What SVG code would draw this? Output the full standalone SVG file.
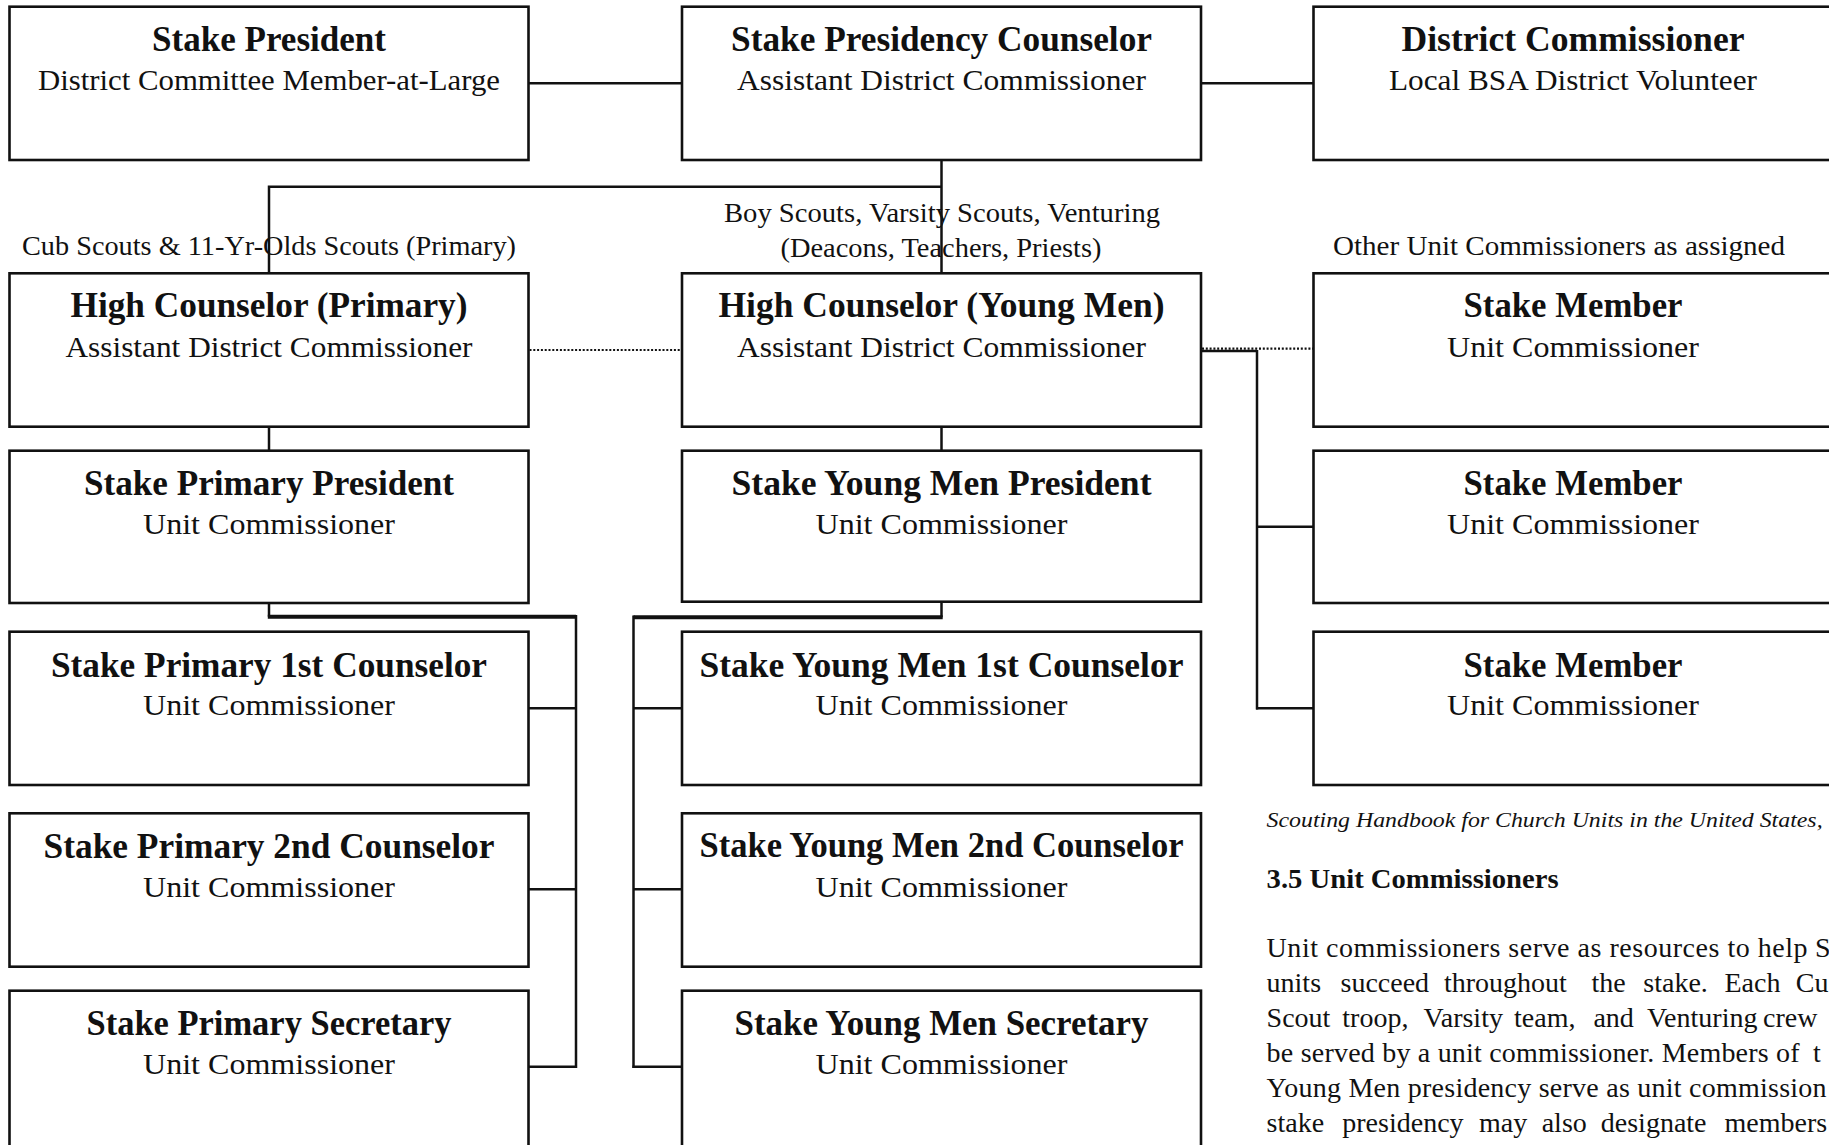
<svg xmlns="http://www.w3.org/2000/svg" width="1829" height="1145" viewBox="0 0 1829 1145">
<style>
.box{fill:#fff;stroke:#111;stroke-width:2.6}
.t{font-family:"Liberation Serif","Times New Roman",serif;font-weight:bold;font-size:35px;fill:#111;text-anchor:middle}
.s{font-family:"Liberation Serif","Times New Roman",serif;font-size:29px;fill:#111;text-anchor:middle}
.lbl{font-family:"Liberation Serif","Times New Roman",serif;font-size:27px;fill:#111}
.c{fill:none;stroke:#111;stroke-width:2.5}
.thick{fill:none;stroke:#111;stroke-width:4}
.dot{fill:none;stroke:#111;stroke-width:2.2;stroke-dasharray:2 1.8}
.p{font-family:"Liberation Serif","Times New Roman",serif;font-size:28px;fill:#111}
.cite{font-family:"Liberation Serif","Times New Roman",serif;font-style:italic;font-size:22px;fill:#111}
.h{font-family:"Liberation Serif","Times New Roman",serif;font-weight:bold;font-size:28px;fill:#111}
</style>
<rect x="0" y="0" width="1829" height="1145" fill="#fff"/>

<g id="connectors">
  <line class="c" x1="528.5" y1="83.3" x2="682" y2="83.3"/>
  <line class="c" x1="1201" y1="83.3" x2="1313.5" y2="83.3"/>
  <line class="c" x1="941.5" y1="160" x2="941.5" y2="273.3"/>
  <polyline class="c" points="941.5,186.7 269,186.7 269,273.3"/>
  <line class="dot" x1="529.5" y1="350" x2="681" y2="350"/>
  <line class="c" x1="1201" y1="351" x2="1257" y2="351"/>
  <line class="dot" x1="1202" y1="348.6" x2="1313" y2="348.6"/>
  <line class="c" x1="1257" y1="350" x2="1257" y2="709.5"/>
  <line class="c" x1="1257" y1="526.7" x2="1313.5" y2="526.7"/>
  <line class="c" x1="1256" y1="708.3" x2="1313.5" y2="708.3"/>
  <line class="c" x1="269" y1="426.7" x2="269" y2="450.7"/>
  <line class="c" x1="941.5" y1="426.7" x2="941.5" y2="450.7"/>
  <polyline class="c" points="269,603 269,616.7"/>
  <line class="thick" x1="267.8" y1="616.7" x2="576" y2="616.7"/>
  <line class="c" x1="576" y1="615" x2="576" y2="1068"/>
  <line class="c" x1="528.5" y1="708.3" x2="576" y2="708.3"/>
  <line class="c" x1="528.5" y1="889.3" x2="576" y2="889.3"/>
  <line class="c" x1="528.5" y1="1066.7" x2="577" y2="1066.7"/>
  <polyline class="c" points="941.5,601.7 941.5,617.3"/>
  <line class="thick" x1="942.7" y1="617.3" x2="633.5" y2="617.3"/>
  <line class="c" x1="633.5" y1="615.5" x2="633.5" y2="1068"/>
  <line class="c" x1="633.5" y1="708.3" x2="682" y2="708.3"/>
  <line class="c" x1="633.5" y1="889.3" x2="682" y2="889.3"/>
  <line class="c" x1="632.5" y1="1066.7" x2="682" y2="1066.7"/>
</g>

<g id="n1">
  <rect class="box" x="9.5" y="6.7" width="519" height="153.3"/>
  <text class="t" x="269" y="51.4" textLength="234" lengthAdjust="spacingAndGlyphs">Stake President</text>
  <text class="s" x="269" y="90" textLength="462" lengthAdjust="spacingAndGlyphs">District Committee Member-at-Large</text>
</g>
<g id="n2">
  <rect class="box" x="682" y="6.7" width="519" height="153.3"/>
  <text class="t" x="941.5" y="51.4" textLength="421" lengthAdjust="spacingAndGlyphs">Stake Presidency Counselor</text>
  <text class="s" x="941.5" y="90" textLength="409" lengthAdjust="spacingAndGlyphs">Assistant District Commissioner</text>
</g>
<g id="n3">
  <rect class="box" x="1313.5" y="6.7" width="519" height="153.3"/>
  <text class="t" x="1573" y="51.4" textLength="343" lengthAdjust="spacingAndGlyphs">District Commissioner</text>
  <text class="s" x="1573" y="90" textLength="368" lengthAdjust="spacingAndGlyphs">Local BSA District Volunteer</text>
</g>

<g id="labels">
  <text class="lbl" x="269" y="255" text-anchor="middle" textLength="494" lengthAdjust="spacingAndGlyphs">Cub Scouts &amp; 11-Yr-Olds Scouts (Primary)</text>
  <text class="lbl" x="942" y="221.7" text-anchor="middle" textLength="436" lengthAdjust="spacingAndGlyphs">Boy Scouts, Varsity Scouts, Venturing</text>
  <text class="lbl" x="941" y="256.7" text-anchor="middle" textLength="321" lengthAdjust="spacingAndGlyphs">(Deacons, Teachers, Priests)</text>
  <text class="lbl" x="1333" y="255" textLength="452" lengthAdjust="spacingAndGlyphs">Other Unit Commissioners as assigned</text>
</g>

<g id="n4">
  <rect class="box" x="9.5" y="273.3" width="519" height="153.4"/>
  <text class="t" x="269" y="317" textLength="397" lengthAdjust="spacingAndGlyphs">High Counselor (Primary)</text>
  <text class="s" x="269" y="356.7" textLength="407" lengthAdjust="spacingAndGlyphs">Assistant District Commissioner</text>
</g>
<g id="n5">
  <rect class="box" x="682" y="273.3" width="519" height="153.4"/>
  <text class="t" x="941.5" y="317" textLength="446" lengthAdjust="spacingAndGlyphs">High Counselor (Young Men)</text>
  <text class="s" x="941.5" y="356.7" textLength="409" lengthAdjust="spacingAndGlyphs">Assistant District Commissioner</text>
</g>
<g id="n6">
  <rect class="box" x="1313.5" y="273.3" width="519" height="153.4"/>
  <text class="t" x="1573" y="317" textLength="219" lengthAdjust="spacingAndGlyphs">Stake Member</text>
  <text class="s" x="1573" y="356.7" textLength="252" lengthAdjust="spacingAndGlyphs">Unit Commissioner</text>
</g>

<g id="n7">
  <rect class="box" x="9.5" y="450.7" width="519" height="152.3"/>
  <text class="t" x="269" y="495" textLength="370" lengthAdjust="spacingAndGlyphs">Stake Primary President</text>
  <text class="s" x="269" y="534" textLength="252" lengthAdjust="spacingAndGlyphs">Unit Commissioner</text>
</g>
<g id="n8">
  <rect class="box" x="682" y="450.7" width="519" height="151"/>
  <text class="t" x="941.5" y="495" textLength="420" lengthAdjust="spacingAndGlyphs">Stake Young Men President</text>
  <text class="s" x="941.5" y="534" textLength="252" lengthAdjust="spacingAndGlyphs">Unit Commissioner</text>
</g>
<g id="n9">
  <rect class="box" x="1313.5" y="450.7" width="519" height="152.3"/>
  <text class="t" x="1573" y="495" textLength="219" lengthAdjust="spacingAndGlyphs">Stake Member</text>
  <text class="s" x="1573" y="534" textLength="252" lengthAdjust="spacingAndGlyphs">Unit Commissioner</text>
</g>

<g id="n10">
  <rect class="box" x="9.5" y="631.7" width="519" height="153.3"/>
  <text class="t" x="269" y="676.5" textLength="436" lengthAdjust="spacingAndGlyphs">Stake Primary 1st Counselor</text>
  <text class="s" x="269" y="715" textLength="252" lengthAdjust="spacingAndGlyphs">Unit Commissioner</text>
</g>
<g id="n11">
  <rect class="box" x="682" y="631.7" width="519" height="153.3"/>
  <text class="t" x="941.5" y="676.5" textLength="484" lengthAdjust="spacingAndGlyphs">Stake Young Men 1st Counselor</text>
  <text class="s" x="941.5" y="715" textLength="252" lengthAdjust="spacingAndGlyphs">Unit Commissioner</text>
</g>
<g id="n12">
  <rect class="box" x="1313.5" y="631.7" width="519" height="153.3"/>
  <text class="t" x="1573" y="676.5" textLength="219" lengthAdjust="spacingAndGlyphs">Stake Member</text>
  <text class="s" x="1573" y="715" textLength="252" lengthAdjust="spacingAndGlyphs">Unit Commissioner</text>
</g>

<g id="n13">
  <rect class="box" x="9.5" y="813.3" width="519" height="153.4"/>
  <text class="t" x="269" y="858" textLength="451" lengthAdjust="spacingAndGlyphs">Stake Primary 2nd Counselor</text>
  <text class="s" x="269" y="896.7" textLength="252" lengthAdjust="spacingAndGlyphs">Unit Commissioner</text>
</g>
<g id="n14">
  <rect class="box" x="682" y="813.3" width="519" height="153.4"/>
  <text class="t" x="941.5" y="857" textLength="484" lengthAdjust="spacingAndGlyphs">Stake Young Men 2nd Counselor</text>
  <text class="s" x="941.5" y="896.7" textLength="252" lengthAdjust="spacingAndGlyphs">Unit Commissioner</text>
</g>

<g id="n15">
  <rect class="box" x="9.5" y="990.7" width="519" height="170"/>
  <text class="t" x="269" y="1035" textLength="365" lengthAdjust="spacingAndGlyphs">Stake Primary Secretary</text>
  <text class="s" x="269" y="1073.5" textLength="252" lengthAdjust="spacingAndGlyphs">Unit Commissioner</text>
</g>
<g id="n16">
  <rect class="box" x="682" y="990.7" width="519" height="170"/>
  <text class="t" x="941.5" y="1035" textLength="414" lengthAdjust="spacingAndGlyphs">Stake Young Men Secretary</text>
  <text class="s" x="941.5" y="1073.5" textLength="252" lengthAdjust="spacingAndGlyphs">Unit Commissioner</text>
</g>

<g id="excerpt">
  <text class="cite" x="1266.6" y="826.7" textLength="556" lengthAdjust="spacingAndGlyphs">Scouting Handbook for Church Units in the United States,</text>
  <text class="h" x="1266.6" y="888.3" textLength="292" lengthAdjust="spacingAndGlyphs">3.5 Unit Commissioners</text>
  <text class="p" x="1266.6" y="957" textLength="541" lengthAdjust="spacing">Unit commissioners serve as resources to help</text>
  <text class="p" x="1815" y="957">S</text>
  <text class="p" y="992"><tspan x="1266.6">units</tspan><tspan x="1340.5">succeed</tspan><tspan x="1443.9">throughout</tspan><tspan x="1591.6">the</tspan><tspan x="1643.3">stake.</tspan><tspan x="1724.5">Each</tspan><tspan x="1795.8">Cu</tspan></text>
  <text class="p" y="1027"><tspan x="1266.6">Scout</tspan><tspan x="1342.3">troop,</tspan><tspan x="1423.6">Varsity</tspan><tspan x="1514">team,</tspan><tspan x="1593.4">and</tspan><tspan x="1647">Venturing</tspan><tspan x="1763">crew</tspan></text>
  <text class="p" x="1266.6" y="1062" textLength="533" lengthAdjust="spacing">be served by a unit commissioner. Members of</text>
  <text class="p" x="1813" y="1062">t</text>
  <text class="p" x="1266.6" y="1097" textLength="560" lengthAdjust="spacing">Young Men presidency serve as unit commission</text>
  <text class="p" y="1132"><tspan x="1266.6">stake</tspan><tspan x="1342.3">presidency</tspan><tspan x="1479">may</tspan><tspan x="1541.7">also</tspan><tspan x="1600.8">designate</tspan><tspan x="1724.5">members</tspan></text>
</g>
</svg>
